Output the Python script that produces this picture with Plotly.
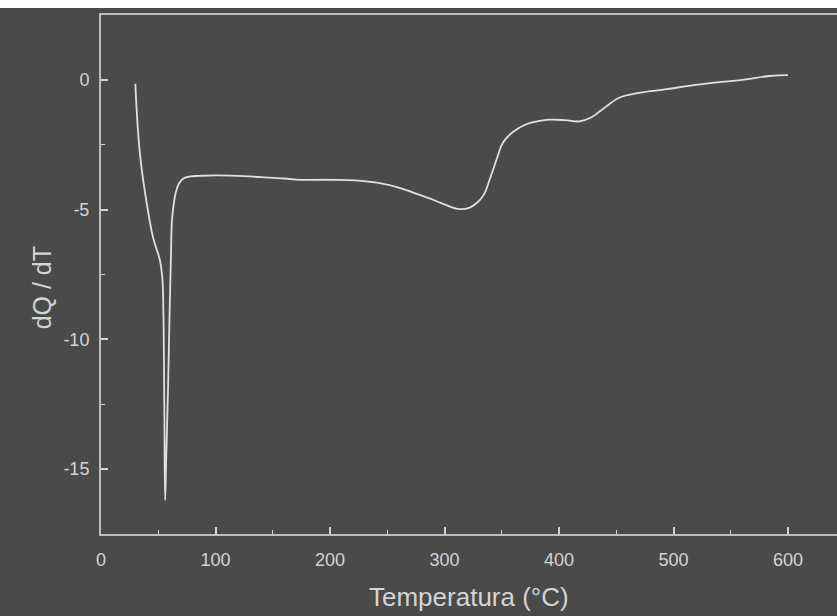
import plotly.graph_objects as go

# DSC-style curve: heat flow derivative vs temperature
temperatura = [30, 34, 40, 45.5, 51.5, 53.5, 54.5, 55.3, 56, 57, 58.5, 60, 61, 62, 63.5, 65, 68, 72, 78, 86,
               100, 119, 140, 160, 174, 200, 225, 241, 260, 275, 290, 300, 313, 322, 328, 334, 340, 346, 351,
               360, 372, 381, 389, 405, 418, 428, 436, 445, 453, 470, 494, 515, 538, 560, 584, 600]
dqdt = [-0.15, -2.85, -4.77, -6.08, -6.96, -7.6, -9.0, -12.5, -16.2, -14.5, -12.0, -8.8, -7.0,
        -5.4, -4.8, -4.4, -4.0, -3.8, -3.72, -3.7,
        -3.68, -3.7, -3.75, -3.8, -3.85, -3.85, -3.88, -3.96, -4.15, -4.38, -4.62, -4.8, -4.98, -4.92, -4.75,
        -4.45, -3.77, -3.0, -2.42, -2.0, -1.7, -1.6, -1.54, -1.55, -1.6, -1.45, -1.2, -0.9, -0.68, -0.5,
        -0.36, -0.22, -0.1, 0.0, 0.15, 0.18]

x_ticks = [0, 100, 200, 300, 400, 500, 600]
y_ticks = [0, -5, -10, -15]

bg = "#4a4a4a"
fg = "#d4d4d4"
font_family = "Liberation Sans, Arial"

fig = go.Figure()
fig.add_trace(go.Scatter(x=temperatura, y=dqdt, mode="lines",
                         line=dict(color="#e0e0e0", width=1.8, shape="spline", smoothing=1.2),
                         showlegend=False))

axis_common = dict(showgrid=False, zeroline=False, showline=True, linecolor="#bdbdbd", linewidth=2,
                   ticks="inside", ticklen=7, tickwidth=1.5, tickcolor=fg,
                   tickfont=dict(family=font_family, size=18, color=fg),
                   minor=dict(ticks="inside", ticklen=4, tickcolor=fg, tickwidth=1.2))

fig.update_xaxes(range=[0, 642.8], tickvals=x_ticks, ticktext=[str(v) for v in x_ticks],
                 minor_dtick=50, mirror=True, ticklabelstandoff=8, **axis_common)
fig.update_yaxes(range=[-17.5, 2.5], tickvals=y_ticks, ticktext=[str(v) for v in y_ticks],
                 minor_dtick=2.5, ticklabelstandoff=6, **axis_common)

fig.update_layout(
    width=837, height=616,
    margin=dict(l=101, r=0, t=15, b=82),
    paper_bgcolor=bg, plot_bgcolor=bg,
    annotations=[
        dict(text="Temperatura (°C)", xref="paper", yref="paper", x=0.5, y=-0.121,
             xanchor="center", yanchor="middle", showarrow=False,
             font=dict(family=font_family, size=26, color=fg)),
        dict(text="dQ / dT", xref="paper", yref="paper", x=-0.079, y=0.475,
             xanchor="center", yanchor="middle", showarrow=False, textangle=-90,
             font=dict(family=font_family, size=25, color=fg)),
    ],
    shapes=[dict(type="rect", xref="paper", yref="paper", x0=-0.2, x1=1.05,
                 y0=1 + 7 / 519, y1=1.1, fillcolor="white", line=dict(width=0), layer="above")],
)

fig.write_html("out.html")
